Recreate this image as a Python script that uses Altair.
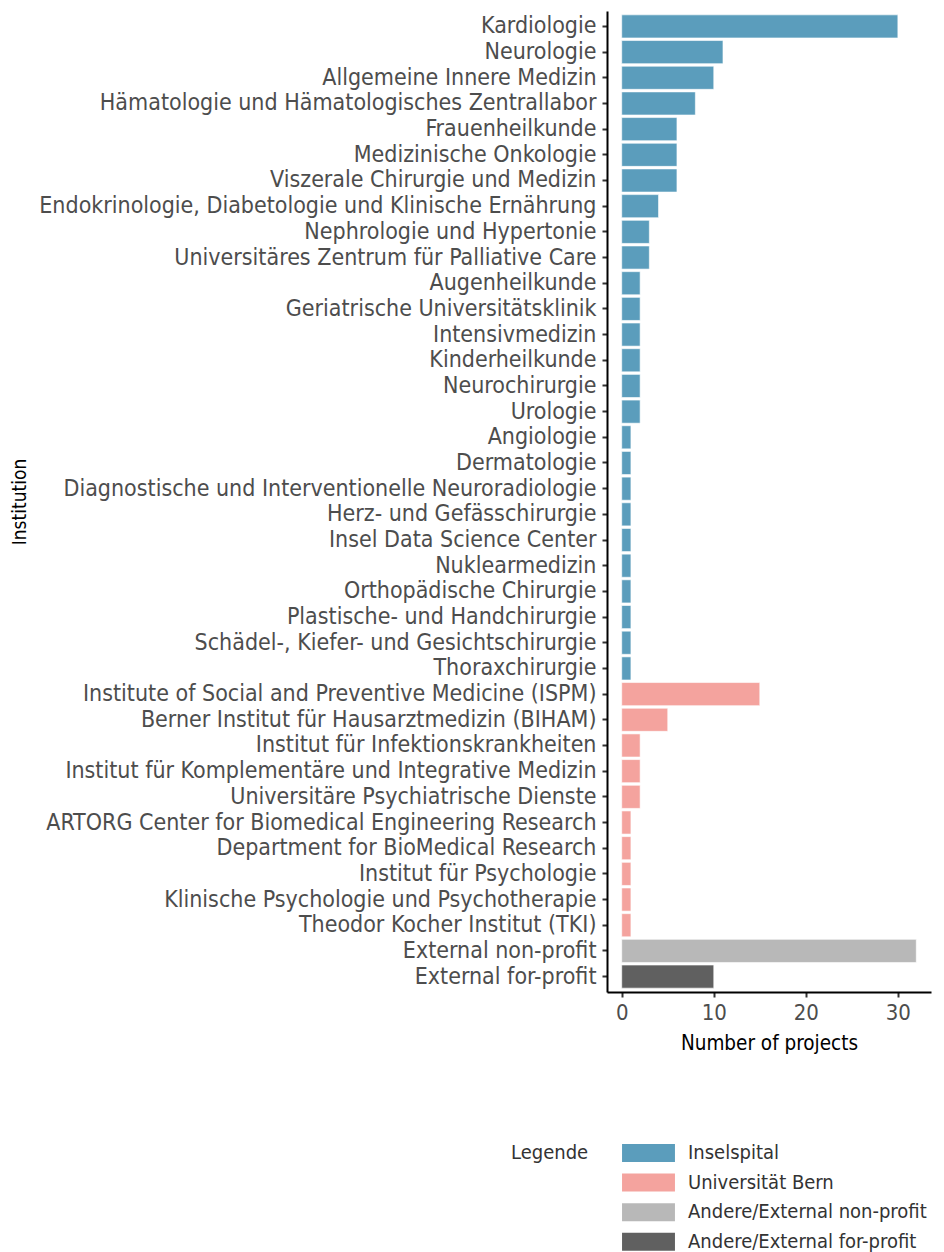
import altair as alt
import pandas as pd

institutions = [
    "Kardiologie", "Neurologie", "Allgemeine Innere Medizin",
    "Hämatologie und Hämatologisches Zentrallabor", "Frauenheilkunde",
    "Medizinische Onkologie", "Viszerale Chirurgie und Medizin",
    "Endokrinologie, Diabetologie und Klinische Ernährung",
    "Nephrologie und Hypertonie", "Universitäres Zentrum für Palliative Care",
    "Augenheilkunde", "Geriatrische Universitätsklinik", "Intensivmedizin",
    "Kinderheilkunde", "Neurochirurgie", "Urologie", "Angiologie",
    "Dermatologie", "Diagnostische und Interventionelle Neuroradiologie",
    "Herz- und Gefässchirurgie", "Insel Data Science Center",
    "Nuklearmedizin", "Orthopädische Chirurgie",
    "Plastische- und Handchirurgie", "Schädel-, Kiefer- und Gesichtschirurgie",
    "Thoraxchirurgie",
    "Institute of Social and Preventive Medicine (ISPM)",
    "Berner Institut für Hausarztmedizin (BIHAM)",
    "Institut für Infektionskrankheiten",
    "Institut für Komplementäre und Integrative Medizin",
    "Universitäre Psychiatrische Dienste",
    "ARTORG Center for Biomedical Engineering Research",
    "Department for BioMedical Research", "Institut für Psychologie",
    "Klinische Psychologie und Psychotherapie",
    "Theodor Kocher Institut (TKI)",
    "External non-profit", "External for-profit",
]
projects = [30, 11, 10, 8, 6, 6, 6, 4, 3, 3, 2, 2, 2, 2, 2, 2,
            1, 1, 1, 1, 1, 1, 1, 1, 1, 1,
            15, 5, 2, 2, 2, 1, 1, 1, 1, 1,
            32, 10]
groups = ["Inselspital"] * 26 + ["Universität Bern"] * 10 + \
    ["Andere/External non-profit", "Andere/External for-profit"]

legend_order = ["Inselspital", "Universität Bern",
                "Andere/External non-profit", "Andere/External for-profit"]
legend_colors = ["#5b9dbc", "#f4a39e", "#b8b8b8", "#606060"]
x_ticks = [0, 10, 20, 30]

df = pd.DataFrame({"Institution": institutions, "Projects": projects,
                   "Group": groups})

FONT = "DejaVu Sans Condensed, Roboto, sans-serif"

chart = alt.Chart(df).mark_bar(stroke="white", strokeWidth=0.6).encode(
    x=alt.X("Projects:Q",
            scale=alt.Scale(domain=[-1.6, 33.6], nice=False, zero=False),
            axis=alt.Axis(title="Number of projects", values=x_ticks,
                          grid=False, domainColor="black", domainWidth=2,
                          tickColor="#333333", tickWidth=2, tickSize=5,
                          labelFontSize=22, labelColor="#4d4d4d",
                          labelFont=FONT, labelPadding=5,
                          titleFontSize=20.5, titleFont=FONT,
                          titleColor="black", titleFontWeight="normal",
                          titlePadding=10)),
    y=alt.Y("Institution:N", sort=institutions,
            scale=alt.Scale(paddingInner=0.1, paddingOuter=0.15),
            axis=alt.Axis(title="Institution", grid=False,
                          domainColor="black", domainWidth=2,
                          tickColor="#333333", tickWidth=2, tickSize=5,
                          labelFontSize=23, labelColor="#4d4d4d",
                          labelFont=FONT, labelPadding=6, labelLimit=0,
                          titleFontSize=19, titleFont=FONT,
                          titleColor="black", titleFontWeight="normal",
                          titleX=-578)),
    color=alt.Color("Group:N",
                    scale=alt.Scale(domain=legend_order, range=legend_colors),
                    legend=alt.Legend(title="Legende", orient="none",
                                      legendX=-96, legendY=1132,
                                      titleOrient="left", titleAnchor="start",
                                      titleBaseline="line-top",
                                      titleLineHeight=20,
                                      symbolType="M-2.94,-1H2.94V1H-2.94Z",
                                      symbolSize=324, symbolStrokeWidth=0,
                                      titleFont=FONT, labelFont=FONT,
                                      titleFontSize=20, labelFontSize=20,
                                      titleColor="#333333",
                                      labelColor="#333333",
                                      titleFontWeight="normal",
                                      titlePadding=49.5, labelLimit=400,
                                      rowPadding=9.6, labelOffset=29.5)),
).properties(
    width=324, height=981,
    autosize=alt.AutoSizeParams(type="none"),
    padding={"left": 599, "top": 3, "right": 5, "bottom": 270},
).configure_view(stroke=None)

chart.save("out.html", embed_options={"renderer": "svg", "actions": False})
